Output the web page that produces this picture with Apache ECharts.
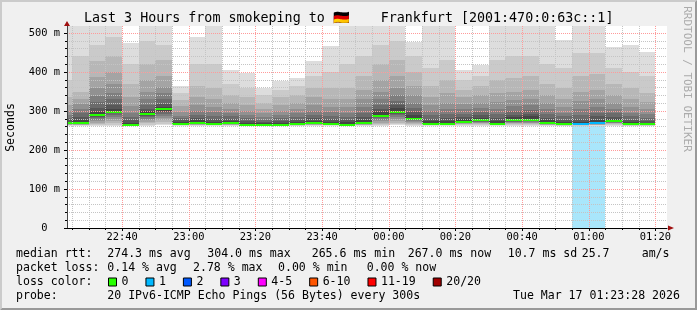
<!DOCTYPE html>
<html><head><meta charset="utf-8">
<script src="https://cdn.jsdelivr.net/npm/echarts@6/dist/echarts.min.js"></script>
<style>html,body{margin:0;padding:0;background:#f0f0f0}#c{width:697px;height:310px}</style>
</head><body><div id="c"></div>
<script>
// ---- data ----
const stepStart = ['22:20','22:25','22:30','22:35','22:40','22:45','22:50','22:55','23:00','23:05','23:10','23:15',
  '23:20','23:25','23:30','23:35','23:40','23:45','23:50','23:55','00:00','00:05','00:10','00:15',
  '00:20','00:25','00:30','00:35','00:40','00:45','00:50','00:55','01:00','01:05','01:10','01:15'];
const medianRtt = [268,268,290,298,265,293,304,267.5,270,267.5,270,265,
  265,265,266,270,267.5,265,270,288,298,280,267.5,267.5,
  272.6,276,267.5,276,278,269,266,265.5,270,273.5,266,266];
const lossCount = [0,0,0,0,0,0,0,0,0,0,0,0, 0,0,0,0,0,0,0,0,0,0,0,0, 0,0,0,0,0,0,0,1,1,0,0,0];
// sorted ping RTTs (ms) of each 5-minute step, 20 pings
const smoke = [
 [262,263,264,265,265.5,266,266.5,267,267.5,268, 268.5,272,276,282,290,300,315,335,380,560],
 [262,263,264,265,265.5,266,266.5,267,267.5,268, 270,276,284,295,305,318,332,350,440,560],
 [262,264,267,270,274,278,282,285,288,290, 293,298,308,322,338,358,388,428,470,560],
 [262,265,270,275,280,285,290,294,297,298, 300,305,315,330,345,370,400,440,490,560],
 [262,262.5,263,263.5,264,264,264.5,264.5,265,265, 267,270,276,285,296,312,335,370,420,475],
 [262,265,268,272,276,280,284,288,291,293, 295,300,306,316,330,350,380,420,480,560],
 [263,267,272,277,282,287,292,297,301,304, 306,311,319,330,345,362,390,430,470,560],
 [262,263,264,265,265.5,266,266.5,267,267,267.5, 269,272,276,281,288,298,312,328,345,364],
 [262,263,264,265,266,267,268,268.5,269,270, 272,276,282,290,300,315,335,365,420,490],
 [262,263,264,265,265.5,266,266.5,267,267,267.5, 269,273,279,287,297,310,330,360,420,560],
 [262,263,264,265,266,267,268,268.5,269,270, 271,274,279,286,294,305,320,340,370,405],
 [262,262.5,263,263.5,264,264,264.5,264.5,265,265, 266,269,274,281,289,300,315,335,360,397],
 [262,262.5,263,263.5,264,264,264.5,264.5,265,265, 266,268,272,278,285,294,305,320,340,358],
 [262,262.5,263,263.5,264,264,264.5,264.5,265,265, 267,270,275,282,290,300,315,335,355,378],
 [262,262.5,263,263.5,264,264.5,265,265.5,265.5,266, 267,271,276,284,294,305,320,340,365,385],
 [262,263,264,265,266,267,268,268.5,269,270, 271,275,281,289,300,315,335,360,390,429],
 [262,263,264,265,265.5,266,266.5,267,267,267.5, 269,273,279,287,297,310,330,360,400,467],
 [262,262.5,263,263.5,264,264,264.5,264.5,265,265, 267,271,277,285,296,310,330,360,420,560],
 [262,263,264,265,266,267,268,268.5,269,270, 272,277,284,295,310,330,355,390,440,560],
 [262,264,267,270,274,278,281,284,286,288, 291,297,304,315,330,350,380,420,470,560],
 [263,266,270,275,280,285,289,293,296,298, 301,307,315,325,340,360,390,430,480,560],
 [262,264,267,270,273,275,277,278,279,280, 283,289,297,308,320,340,365,400,440,478],
 [262,263,264,265,265.5,266,266.5,267,267,267.5, 269,274,280,290,300,315,335,365,410,560],
 [262,263,264,265,265.5,266,266.5,267,267,267.5, 269,275,282,292,305,320,345,380,430,560],
 [262,264,266,267,268,269,270,271,272,272.6, 274,279,285,293,304,318,335,355,380,405],
 [262,264,266,268,270,272,273,274,275,276, 278,283,289,297,307,320,340,365,390,418],
 [262,263,264,265,265.5,266,266.5,267,267,267.5, 269,275,282,292,305,322,345,380,430,560],
 [262,264,266,268,270,272,273,274,275,276, 278,284,290,300,312,328,350,385,440,560],
 [262,264,266,268,270,272,274,276,277,278, 280,286,293,302,315,332,355,390,440,560],
 [262,263,264,265,266,266.5,267,268,268.5,269, 271,276,283,293,305,320,340,370,420,560],
 [262,262.5,263,263.5,264,264.5,265,265.5,265.5,266, 267,271,277,286,296,310,330,360,410,482],
 [262,262.5,263,263.5,264,264.5,264.5,265,265,265.5, 267,272,280,290,305,325,350,390,450,560],
 [262,263,264,265,266,267,268,268.5,269,270, 272,278,286,296,310,330,355,395,450,560],
 [262,264,266,268,269,270,271,272,273,273.5, 275,279,285,294,305,320,340,370,410,465],
 [262,262.5,263,263.5,264,264.5,265,265.5,265.5,266, 267,271,277,286,296,310,330,360,400,469],
 [262,262.5,263,263.5,264,264.5,265,265.5,265.5,266, 267,270,275,283,292,305,322,345,390,452]
];
const xMajorLabels = ['22:40','23:00','23:20','23:40','00:00','00:20','00:40','01:00','01:20'];
const yMajorTicks = [0,100,200,300,400,500];
const yMinorTicks = [20,40,60,80,120,140,160,180,220,240,260,280,320,340,360,380,420,440,460,480];
const viewFrom = '22:23:28', viewTo = '01:23:28';
const yTop = 518;
const lossLabels = ['0','1','2','3','4-5','6-10','11-19','20/20'];
const lossColors = ['#26ff00','#00b8ff','#0059ff','#7e00ff','#ff00ff','#ff5500','#ff0000','#a10000'];
const lossBgColor = '#a9e6fb';

// ---- helpers ----
const FONT = '"DejaVu Sans Mono"';
function toMin(s){ const p = s.split(':').map(Number); return ((p[0]-22+24)%24)*60 + p[1] + (p[2]||0)/60; }
function fmtMin(v){ const t = Math.round(v); const h = (22 + Math.floor(t/60)) % 24; const m = t % 60;
  return String(h).padStart(2,'0') + ':' + String(m).padStart(2,'0'); }
const stepMin = stepStart.map(toMin);
const xMajor = xMajorLabels.map(toMin);
const boundaries = stepMin.concat([stepMin[stepMin.length-1] + 5]);
const xMinor = boundaries.filter(v => xMajor.indexOf(v) < 0);
const shade = [];
for (let k = 1; k <= 10; k++) { const g = Math.floor(190/10*(10-k)) + 50; const h = g.toString(16).padStart(2,'0'); shade.push('#' + h + h + h); }
function lossIdx(n){ if (n <= 0) return 0; if (n === 1) return 1; if (n === 2) return 2; if (n === 3) return 3; if (n <= 5) return 4; if (n <= 10) return 5; if (n <= 19) return 6; return 7; }

function renderItem(params, api){
  const i = params.dataIndex;
  const t0 = stepMin[i], t1 = t0 + 5;
  const xa = Math.round(api.coord([t0, 0])[0]), xb = Math.round(api.coord([t1, 0])[0]);
  const cs = params.coordSys;
  const row = smoke[i];
  const kids = [];
  if (lossCount[i] > 0) kids.push({type:'rect', shape:{x:xa, y:cs.y, width:xb-xa, height:cs.height}, style:{fill:lossBgColor}});
  for (let k = 0; k < 10; k++) {
    const yl = Math.round(api.coord([t0, row[k]])[1]);
    const yh = Math.round(api.coord([t0, row[19-k]])[1]);
    kids.push({type:'rect', shape:{x:xa, y:yh, width:xb-xa, height:Math.max(yl-yh, 0)}, style:{fill:shade[k]}});
  }
  const ym = Math.round(api.coord([t0, medianRtt[i]])[1]);
  kids.push({type:'rect', shape:{x:xa, y:ym-1, width:xb-xa, height:2}, style:{fill:lossColors[lossIdx(lossCount[i])]}});
  return {type:'group', children:kids};
}

const txt = (text, x, y, extra) => Object.assign({type:'text', x:x, y:y, silent:true,
  style:{text:text, font:'11.56px ' + FONT, fill:'#000', align:'left', verticalAlign:'middle'}}, extra || {});

const chart = echarts.init(document.getElementById('c'), null, {renderer:'canvas'});
const series = [{
  type:'custom', name:'smoke', xAxisIndex:0, yAxisIndex:0, clip:true, silent:true, z:2,
  data: smoke.map((r, i) => [stepMin[i], medianRtt[i]]), renderItem: renderItem
}];
lossLabels.forEach((n, i) => series.push({type:'bar', name:n, data:[], itemStyle:{color:lossColors[i]}}));

chart.setOption({
  animation:false,
  backgroundColor:'#f0f0f0',
  grid:{left:67, right:30, top:26, bottom:82, show:true, backgroundColor:'#ffffff', borderWidth:0},
  xAxis:[
    {type:'value', position:'bottom', min:toMin(viewFrom), max:toMin(viewTo), z:4,
     axisLine:{show:true, onZero:false, lineStyle:{color:'#000', width:1}},
     axisTick:{show:true, customValues:xMajor, length:3, lineStyle:{color:'#000'}},
     axisLabel:{show:true, customValues:xMajor, formatter:fmtMin, color:'#000', fontFamily:'DejaVu Sans Mono', fontSize:10.4, margin:4},
     splitLine:{show:true, lineStyle:{color:'#ff9a9a', width:1, type:[1,1]}}},
    {type:'value', position:'bottom', min:toMin(viewFrom), max:toMin(viewTo), z:3,
     axisLine:{show:false},
     axisTick:{show:true, customValues:xMinor, length:2, lineStyle:{color:'#000'}},
     axisLabel:{show:false},
     splitLine:{show:true, lineStyle:{color:'#c4c4c4', width:1, type:[1,1]}}}
  ],
  yAxis:[
    {type:'value', position:'left', min:0, max:yTop, z:4,
     axisLine:{show:true, lineStyle:{color:'#444', width:1}},
     axisTick:{show:true, customValues:yMajorTicks, length:3, lineStyle:{color:'#000'}},
     axisLabel:{show:true, customValues:yMajorTicks, formatter:v => v === 0 ? '0  ' : (v + ' m'), color:'#000', fontFamily:'DejaVu Sans Mono', fontSize:10.4, margin:7},
     splitLine:{show:true, lineStyle:{color:'#ff9a9a', width:1, type:[1,1]}}},
    {type:'value', position:'left', min:0, max:yTop, z:3,
     axisLine:{show:false},
     axisTick:{show:true, customValues:yMinorTicks, length:2, lineStyle:{color:'#000'}},
     axisLabel:{show:false},
     splitLine:{show:true, lineStyle:{color:'#c4c4c4', width:1, type:[1,1]}}}
  ],
  legend:{data:lossLabels, left:108, top:275, itemWidth:8, itemHeight:8, itemGap:17, selectedMode:false,
    icon:'rect', itemStyle:{borderColor:'#000', borderWidth:1},
    textStyle:{fontFamily:'DejaVu Sans Mono', fontSize:11.56, color:'#000', lineHeight:14}, padding:0},
  series:series,
  graphic:[
    // frame
    {type:'polygon', silent:true, shape:{points:[[0,0],[697,0],[695,2],[2,2],[2,308],[0,310]]}, style:{fill:'#cbcbcb'}},
    {type:'polygon', silent:true, shape:{points:[[697,0],[697,310],[0,310],[2,308],[695,308],[695,2]]}, style:{fill:'#999999'}},
    // arrows
    {type:'polygon', silent:true, z:10, shape:{points:[[64,26],[70,26],[67,21]]}, style:{fill:'#a01010'}},
    {type:'polygon', silent:true, z:10, shape:{points:[[668,225.5],[668,230.5],[674,228]]}, style:{fill:'#a01010'}},
    // title
    {type:'text', x:84, y:19, silent:true, style:{text:'Last 3 Hours from smokeping to', font:'13.33px ' + FONT, fill:'#000', verticalAlign:'middle'}},
    {type:'text', x:333, y:19, silent:true, style:{text:'\u{1F1E9}\u{1F1EA}', font:'13.33px ' + FONT, fill:'#000', verticalAlign:'middle'}},
    {type:'text', x:380.7, y:19, silent:true, style:{text:'Frankfurt [2001:470:0:63c::1]', font:'13.33px ' + FONT, fill:'#000', verticalAlign:'middle'}},
    // axis titles / watermark
    {type:'text', x:11, y:127.5, rotation:Math.PI/2, silent:true, style:{text:'Seconds', font:'11.56px ' + FONT, fill:'#000', align:'center', verticalAlign:'middle'}},
    {type:'text', x:687, y:79, rotation:-Math.PI/2, silent:true, style:{text:'RRDTOOL / TOBI OETIKER', font:'11px ' + FONT, fill:'#ababab', align:'center', verticalAlign:'middle'}},
    // legend rows
    txt('median rtt:', 16, 254.3),
    txt('274.3 ms avg', 107.3, 254.3), txt('304.0 ms max', 207.3, 254.3), txt('265.6 ms min', 311.7, 254.3),
    txt('267.0 ms now', 407.7, 254.3), txt('10.7 ms sd', 507.7, 254.3), txt('25.7', 581.7, 254.3), txt('am/s', 641.7, 254.3),
    txt('packet loss:', 16, 268.3),
    txt('0.14 % avg', 107.3, 268.3), txt('2.78 % max', 193, 268.3), txt('0.00 % min', 278, 268.3), txt('0.00 % now', 366.7, 268.3),
    txt('loss color:', 16, 282.3),
    txt('probe:', 16, 296.3),
    txt('20 IPv6-ICMP Echo Pings (56 Bytes) every 300s', 107.3, 296.3),
    txt('Tue Mar 17 01:23:28 2026', 513, 296.3)
  ]
});
</script></body></html>
